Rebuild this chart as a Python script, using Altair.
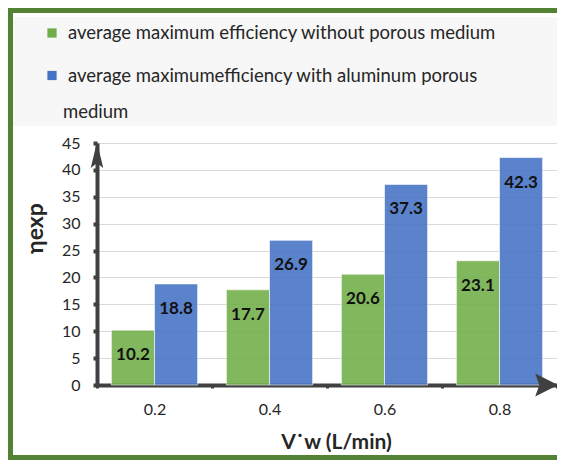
import altair as alt
import pandas as pd

# ---- data ----
flow = ["0.2", "0.4", "0.6", "0.8"]
without_pm = [10.2, 17.7, 20.6, 23.1]
with_al = [18.8, 26.9, 37.3, 42.3]
series = [
    "average maximum efficiency without porous medium",
    "average maximumefficiency with aluminum  porous medium",
]
y_ticks = [0, 5, 10, 15, 20, 25, 30, 35, 40, 45]
legend_line1 = "average maximum efficiency without porous medium"
legend_line2a = "average maximumefficiency with aluminum  porous"
legend_line2b = "medium"

rows = []
for f, a, b in zip(flow, without_pm, with_al):
    rows.append({"flow": f, "series": series[0], "eff": a})
    rows.append({"flow": f, "series": series[1], "eff": b})
df = pd.DataFrame(rows)

GREEN = "#70AD47"
BLUE = "#4472C4"
AXIS = "#404040"
FRAME = "#548235"
FONT = "Lato"
W, H = 460, 242

color_scale = alt.Scale(domain=series, range=[GREEN, BLUE])
one = alt.Data(values=[{"k": 0}])

y_axis = alt.Axis(
    title="ηexp",
    values=y_ticks,
    grid=True,
    gridColor="#d9d9d9",
    gridWidth=1,
    labelFont=FONT,
    labelFontSize=16,
    labelColor="#262626",
    labelPadding=13,
    labelOverlap=False,
    domainColor=AXIS,
    domainWidth=4,
    tickColor=AXIS,
    tickSize=4,
    tickWidth=4,
    titleFont=FONT,
    titleFontSize=23,
    titleFontWeight="bold",
    titleColor="#262626",
    titleAngle=-90,
    titleX=-62,
    titleY=85,
    titleBaseline="middle",
    titleAlign="center",
)

base = alt.Chart(df).encode(
    x=alt.X(
        "flow:N",
        sort=flow,
        scale=alt.Scale(paddingInner=0, paddingOuter=0),
        axis=alt.Axis(
            title="V˙w (L/min)",
            labelAngle=0,
            labelFont=FONT,
            labelFontSize=16,
            labelColor="#262626",
            labelPadding=13,
            domainColor=AXIS,
            domainWidth=4,
            tickColor=AXIS,
            tickSize=3,
            tickWidth=3,
            tickBand="extent",
            titleFont=FONT,
            titleFontSize=21,
            titleFontWeight="bold",
            titleColor="#262626",
            titleX=239,
            titleY=57,
            titleBaseline="middle",
            titleAlign="center",
        ),
    ),
    xOffset=alt.XOffset(
        "series:N", sort=series, scale=alt.Scale(paddingInner=0, paddingOuter=0.333)
    ),
    y=alt.Y("eff:Q", scale=alt.Scale(domain=[0, 45], nice=False), axis=y_axis),
)

bars = base.mark_bar(
    fillOpacity=0.88, stroke="white", strokeWidth=1, strokeOpacity=0.6
).encode(
    color=alt.Color("series:N", scale=color_scale, legend=None),
)

labels = base.mark_text(
    dy=25, baseline="middle", font=FONT, fontSize=17, fontWeight="bold", color="#111111"
).encode(
    text=alt.Text("eff:Q", format=".1f"),
)

# ---- decorations: frame, legend band, legend, axis arrows ----
frame_top = alt.Chart(one).mark_rule(color=FRAME, strokeWidth=5).encode(
    x=alt.value(-89), x2=alt.value(480), y=alt.value(-132.5)
)
frame_left = alt.Chart(one).mark_rule(color=FRAME, strokeWidth=5).encode(
    x=alt.value(-86.5), y=alt.value(-135), y2=alt.value(325)
)
frame_bottom = alt.Chart(one).mark_rule(color=FRAME, strokeWidth=5).encode(
    x=alt.value(-89), x2=alt.value(480), y=alt.value(314.5)
)
band = alt.Chart(one).mark_rect(fill="#f7f7f7").encode(
    x=alt.value(-84), x2=alt.value(480), y=alt.value(-126), y2=alt.value(-17)
)
sq1 = alt.Chart(one).mark_square(size=85, opacity=1).encode(
    x=alt.value(-45), y=alt.value(-110), color=alt.value(GREEN)
)
sq2 = alt.Chart(one).mark_square(size=85, opacity=1).encode(
    x=alt.value(-45), y=alt.value(-67.5), color=alt.value(BLUE)
)
ltxt = dict(align="left", baseline="middle", font=FONT, fontSize=18.5, color="#262626")
t1 = alt.Chart(one).mark_text(**ltxt).encode(
    x=alt.value(-29), y=alt.value(-110), text=alt.value(legend_line1)
)
t2 = alt.Chart(one).mark_text(**ltxt).encode(
    x=alt.value(-29), y=alt.value(-67.5), text=alt.value(legend_line2a)
)
t3 = alt.Chart(one).mark_text(**ltxt).encode(
    x=alt.value(-34), y=alt.value(-31), text=alt.value(legend_line2b)
)
up_arrow = alt.Chart(one).mark_point(
    shape="M0,-1L0.48,1L0,0.62L-0.48,1Z", size=676, filled=True, opacity=1,
    color=AXIS, strokeWidth=0
).encode(x=alt.value(0), y=alt.value(12))
right_arrow = alt.Chart(one).mark_point(
    shape="M1,0L-0.9,-0.95L-0.55,0L-0.9,0.95Z", size=576, filled=True, opacity=1,
    color=AXIS, strokeWidth=0
).encode(x=alt.value(449), y=alt.value(H))

chart = alt.layer(
    band, frame_top, frame_left, frame_bottom, bars, labels,
    sq1, sq2, t1, t2, t3, up_arrow, right_arrow
).properties(
    width=W,
    height=H,
    autosize=alt.AutoSizeParams(type="none"),
    padding={"left": 89, "top": 135, "right": 0, "bottom": 75},
).configure_view(stroke=None).configure(background="white")

chart.save("out.html", embed_options={"renderer": "svg", "actions": False})
